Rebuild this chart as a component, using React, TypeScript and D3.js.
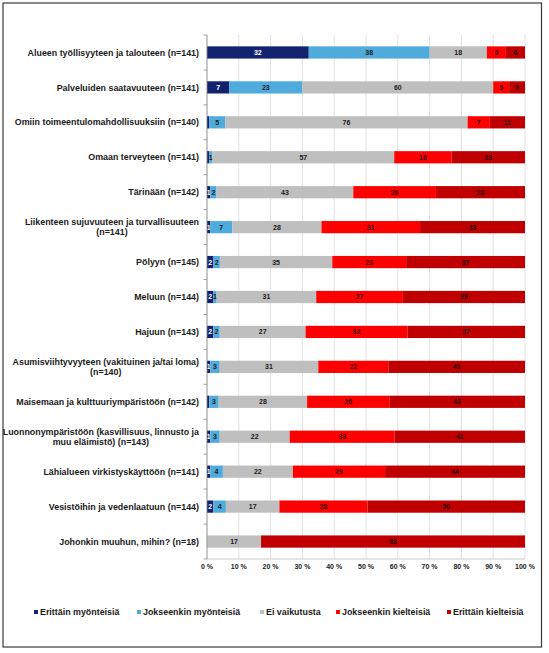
import React from "react";
import * as d3 from "d3";

const categories = [
  "Alueen työllisyyteen ja talouteen (n=141)",
  "Palveluiden saatavuuteen (n=141)",
  "Omiin toimeentulomahdollisuuksiin (n=140)",
  "Omaan terveyteen (n=141)",
  "Tärinään (n=142)",
  "Liikenteen sujuvuuteen ja turvallisuuteen\n(n=141)",
  "Pölyyn (n=145)",
  "Meluun (n=144)",
  "Hajuun (n=143)",
  "Asumisviihtyvyyteen (vakituinen ja/tai loma)\n(n=140)",
  "Maisemaan ja kulttuuriympäristöön (n=142)",
  "Luonnonympäristöön (kasvillisuus, linnusto ja\nmuu eläimistö) (n=143)",
  "Lähialueen virkistyskäyttöön (n=141)",
  "Vesistöihin ja vedenlaatuun (n=144)",
  "Johonkin muuhun, mihin? (n=18)",
];

const erittainMyonteisia = [32, 7, 0.7, 0.7, 1, 1, 2, 2, 2, 1, 0.7, 1, 1, 2, 0];
const jokseenkinMyonteisia = [38, 23, 5, 1, 2, 7, 2, 1, 2, 3, 3, 3, 4, 4, 0];
const eiVaikutusta = [18, 60, 76, 57, 43, 28, 35, 31, 27, 31, 28, 22, 22, 17, 17];
const jokseenkinKielteisia = [6, 5, 7, 18, 26, 31, 23, 27, 32, 22, 26, 33, 29, 28, 0];
const erittainKielteisia = [6, 5, 11, 23, 28, 33, 37, 38, 37, 43, 43, 41, 44, 50, 83];

const seriesNames = [
  "Erittäin myönteisiä",
  "Jokseenkin myönteisiä",
  "Ei vaikutusta",
  "Jokseenkin kielteisiä",
  "Erittäin kielteisiä",
];
const seriesValues = [
  erittainMyonteisia,
  jokseenkinMyonteisia,
  eiVaikutusta,
  jokseenkinKielteisia,
  erittainKielteisia,
];
const seriesColors = ["#12226e", "#4fabdb", "#bfbfbf", "#ff0000", "#c00000"];
const seriesTextColors = ["#ffffff", "#1a1a1a", "#1a1a1a", "#3a0000", "#2a0000"];

const tickValues = [0, 0.1, 0.2, 0.3, 0.4, 0.5, 0.6, 0.7, 0.8, 0.9, 1];

const FONT = "'Liberation Sans', Arial, sans-serif";

function measure(text: string, size: number): number {
  if (typeof document === "undefined") return text.length * size * 0.55;
  const c = document.createElement("canvas");
  const ctx = c.getContext("2d");
  if (!ctx) return text.length * size * 0.55;
  ctx.font = `bold ${size}px 'Liberation Sans'`;
  return ctx.measureText(text).width;
}

export default function App() {
  const W = 549;
  const H = 653;
  const x0 = 207;
  const x1 = 525;
  const yTop = 35;
  const yBot = 559;

  const keys = seriesNames;
  const rows = categories.map((c, i) => {
    const o: any = { cat: c };
    keys.forEach((k, s) => (o[k] = seriesValues[s][i]));
    return o;
  });
  const stack = d3.stack<any>().keys(keys).offset(d3.stackOffsetExpand);
  const stacked = stack(rows);

  const x = d3.scaleLinear().domain([0, 1]).range([x0, x1]);
  const y = d3
    .scaleBand<string>()
    .domain(categories)
    .range([yTop, yBot])
    .paddingInner(0.65)
    .paddingOuter(0.325);
  const step = y.step();

  const labelSize = 8.9;
  const labelRight = 199;

  const legendX = [36, 139, 262, 338, 449];

  return (
    <svg
      width={W}
      height={H}
      style={{ position: "absolute", left: 0, top: 0, background: "#fff" }}
      fontFamily={FONT}
    >
      <rect x={0} y={0} width={W} height={H} fill="#fff" />
      <rect x={3} y={3} width={538.5} height={644} fill="none" stroke="#3a3a3a" strokeWidth={1.2} />
      {/* gridlines */}
      {tickValues.map((t) => (
        <line key={"g" + t} x1={x(t)} x2={x(t)} y1={yTop} y2={yBot} stroke="#d9d9d9" strokeWidth={0.8} />
      ))}
      {/* bars */}
      {stacked.map((layer, s) =>
        layer.map((d, i) => {
          const v = seriesValues[s][i];
          if (!v) return null;
          const xa = x(d[0]);
          const xb = x(d[1]);
          const yy = y(categories[i])!;
          const bw = y.bandwidth();
          return (
            <g key={s + "-" + i}>
              <rect x={xa} y={yy} width={Math.max(0, xb - xa)} height={bw} fill={seriesColors[s]} />
              {v >= 1 && (
                <text
                  x={(xa + xb) / 2}
                  y={yy + bw / 2}
                  dy="0.35em"
                  textAnchor="middle"
                  fontSize={7}
                  fontWeight="bold"
                  fill={seriesTextColors[s]}
                >
                  {Math.round(v)}
                </text>
              )}
            </g>
          );
        })
      )}
      {/* y axis */}
      <line x1={x0} x2={x0} y1={yTop} y2={yBot} stroke="#8c8c8c" strokeWidth={0.8} />
      {d3.range(categories.length + 1).map((k) => (
        <line
          key={"yt" + k}
          x1={x0 - 3.5}
          x2={x0}
          y1={yTop + k * step}
          y2={yTop + k * step}
          stroke="#8c8c8c"
          strokeWidth={0.8}
        />
      ))}
      {/* x axis */}
      <line x1={x0} x2={x1} y1={yBot} y2={yBot} stroke="#bdbdbd" strokeWidth={0.8} />
      {tickValues.map((t) => (
        <text
          key={"xt" + t}
          x={x(t)}
          y={567}
          dy="0.35em"
          textAnchor="middle"
          fontSize={7}
          fontWeight="bold"
          fill="#1a1a1a"
        >
          {Math.round(t * 100) + " %"}
        </text>
      ))}
      {/* category labels */}
      {categories.map((c) => {
        const lines = c.split("\n");
        const cy = y(c)! + y.bandwidth() / 2;
        if (lines.length === 1) {
          return (
            <text
              key={"c" + c}
              x={labelRight}
              y={cy}
              dy="0.35em"
              textAnchor="end"
              fontSize={labelSize}
              fontWeight="bold"
              fill="#1a1a1a"
            >
              {c}
            </text>
          );
        }
        const wMax = Math.max(...lines.map((l) => measure(l, labelSize)));
        const cx = labelRight - wMax / 2;
        const lh = 9.6;
        return (
          <text
            key={"c" + c}
            x={cx}
            y={cy - ((lines.length - 1) * lh) / 2}
            textAnchor="middle"
            fontSize={labelSize}
            fontWeight="bold"
            fill="#1a1a1a"
          >
            {lines.map((l, li) => (
              <tspan key={li} x={cx} dy={li === 0 ? "0.35em" : lh}>
                {l}
              </tspan>
            ))}
          </text>
        );
      })}
      {/* legend */}
      {seriesNames.map((n, s) => (
        <g key={"l" + n}>
          <rect x={legendX[s] - 2} y={610} width={4} height={4} fill={seriesColors[s]} />
          <text
            x={legendX[s] + 4}
            y={612}
            dy="0.35em"
            fontSize={labelSize}
            fontWeight="bold"
            fill="#1a1a1a"
          >
            {n}
          </text>
        </g>
      ))}
    </svg>
  );
}
